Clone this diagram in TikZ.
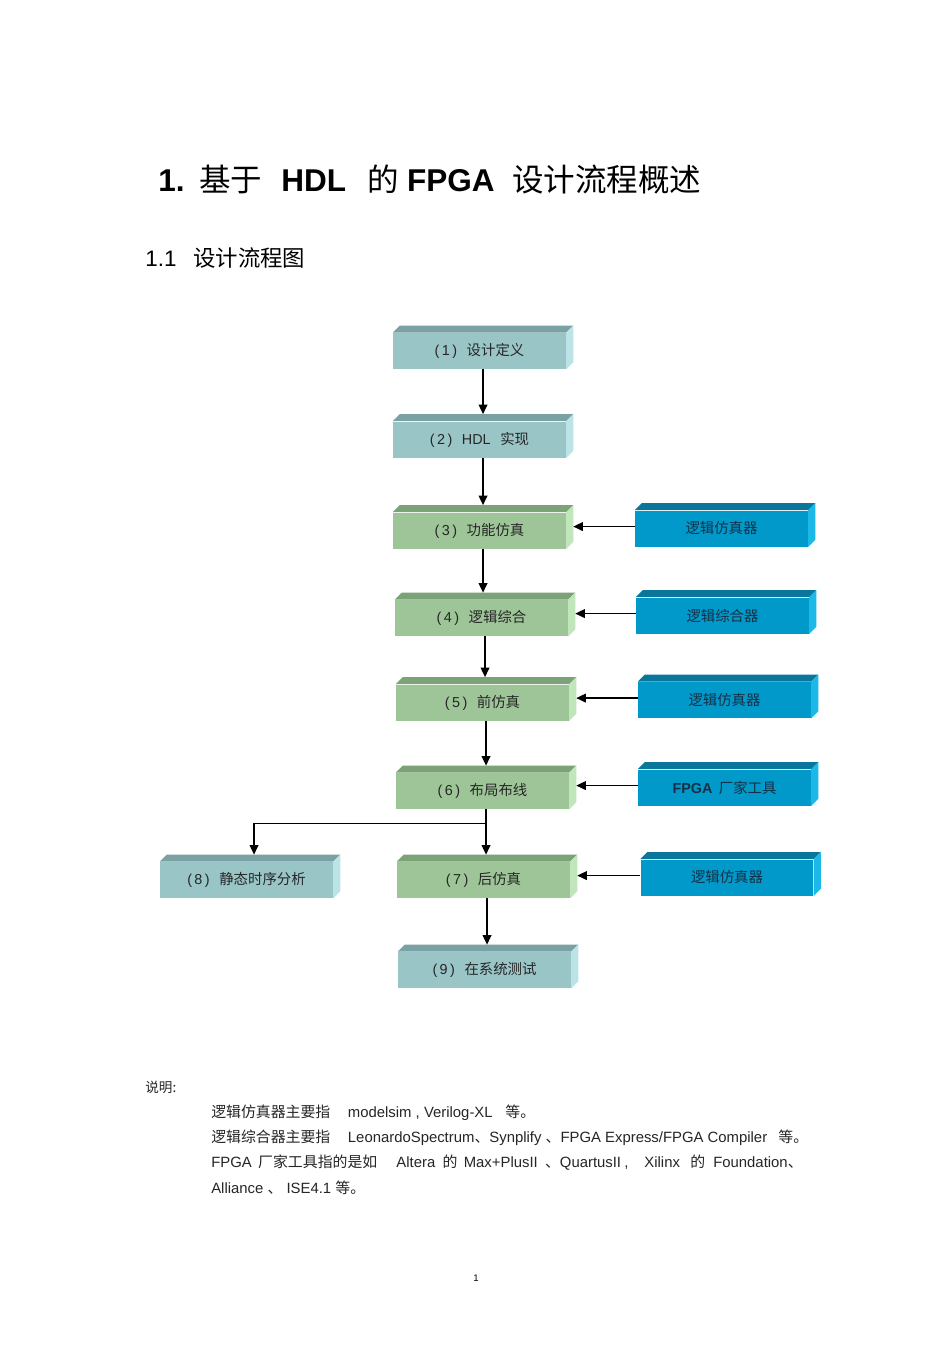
\documentclass[tikz,border=0pt]{standalone}
\usepackage{fontspec}
\setmainfont{Liberation Sans}
\newfontfamily\cjk{Noto Sans CJK SC}
\usetikzlibrary{arrows.meta, calc}
\definecolor{tlFront}{RGB}{154,197,199}
\definecolor{tlTop}{RGB}{122,162,164}
\definecolor{tlSide}{RGB}{188,228,230}
\definecolor{grFront}{RGB}{158,197,152}
\definecolor{grTop}{RGB}{124,162,120}
\definecolor{grSide}{RGB}{194,230,188}
\definecolor{blFront}{RGB}{0,153,201}
\definecolor{blTop}{RGB}{10,118,156}
\definecolor{blSide}{RGB}{28,184,232}
\definecolor{blText}{RGB}{22,48,72}
\newcommand{\zh}[1]{{\cjk #1}}

\tikzset{
  stage/.style={minimum width=108pt, minimum height=22.5pt, inner sep=0pt,
    font=\fontsize{9pt}{10.5pt}\selectfont, text=black!85},
  tl/.style={stage, fill=tlFront},
  gr/.style={stage, fill=grFront},
  bl/.style={stage, fill=blFront, text=blText},
  arr/.style={line width=0.8pt, -{Triangle[length=6pt,width=5.5pt]}, shorten >=4.4pt},
  notes/.style={anchor=west, inner sep=0pt, font=\fontsize{9.3pt}{11pt}\selectfont, text=black!85}
}
\newcommand{\num}[1]{(\hspace{1.5pt}#1\hspace{1.5pt})\hspace{6pt}}

\begin{document}
\begin{tikzpicture}[x=0.625pt, y=-0.625pt]
  \fill[white] (0,0) rectangle (950,1345);
  \useasboundingbox (0,0) rectangle (950,1345);

  % headings
  \node[anchor=west, inner sep=0pt, font=\fontsize{19.7pt}{23pt}\selectfont] (title) at (158,180)
    {\textbf{1.}\hspace{9pt}\zh{基于}\hspace{12pt}\textbf{HDL}\hspace{13.5pt}\zh{的}\hspace{5pt}\textbf{FPGA}\hspace{11pt}\zh{设计流程概述}};
  \node[anchor=west, inner sep=0pt, font=\fontsize{14pt}{16pt}\selectfont] (sec) at (145,258)
    {1.1\hspace{10.5pt}\zh{设计流程图}};

  % flow stages
  \node[tl] (d1) at (479.5,351) {\num{1}\zh{设计定义}};
  \node[tl] (d2) at (479.5,439.5) {\num{2}HDL\hspace{6pt}\zh{实现}};
  \node[gr] (d3) at (479.5,530.5) {\num{3}\zh{功能仿真}};
  \node[gr] (d4) at (481.5,618) {\num{4}\zh{逻辑综合}};
  \node[gr] (d5) at (482.5,702.5) {\num{5}\zh{前仿真}};
  \node[gr] (d6) at (482.5,791) {\num{6}\zh{布局布线}};
  \node[gr] (d7) at (483.5,880) {\num{7}\zh{后仿真}};
  \node[tl] (d8) at (246.5,880) {\num{8}\zh{静态时序分析}};
  \node[tl] (d9) at (484.5,970) {\num{9}\zh{在系统测试}};

  % tools
  \node[bl] (s1) at (721.5,528.5) {\zh{逻辑仿真器}};
  \node[bl] (s2) at (722.5,615.5) {\zh{逻辑综合器}};
  \node[bl] (s3) at (724.5,700) {\zh{逻辑仿真器}};
  \node[bl] (s4) at (724.5,787.5) {\textbf{FPGA}\hspace{4pt}\zh{厂家工具}};
  \node[bl] (s5) at (727,877.5) {\zh{逻辑仿真器}};

  % bevels
  \foreach \n/\t/\s in {d1/tlTop/tlSide, d2/tlTop/tlSide, d3/grTop/grSide, d4/grTop/grSide,
      d5/grTop/grSide, d6/grTop/grSide, d7/grTop/grSide, d8/tlTop/tlSide, d9/tlTop/tlSide,
      s1/blTop/blSide, s2/blTop/blSide, s3/blTop/blSide, s4/blTop/blSide, s5/blTop/blSide} {
    \fill[\t] (\n.north west) -- ++(4.4pt,4.4pt) -- ([shift={(4.4pt,4.4pt)}]\n.north east)
      -- (\n.north east) -- cycle;
    \fill[\s] (\n.north east) -- ++(4.4pt,4.4pt) -- ([shift={(4.4pt,4.4pt)}]\n.south east)
      -- (\n.south east) -- cycle;
  }

  % connectors
  \foreach \a/\b in {d1/d2, d2/d3, d3/d4, d4/d5, d5/d6, d6/d7, d7/d9}
    \draw[arr] ([xshift=2.2pt]\a.south) -- ([xshift=2.2pt]\a.south |- \b.north);
  \foreach \a/\b in {s1/d3, s2/d4, s3/d5, s4/d6, s5/d7}
    \draw[arr, shorten >=0pt] ([yshift=1.2pt]\a.west) -- ([shift={(4.4pt,1.2pt)}]\a.west -| \b.east);
  \coordinate (br) at ([shift={(2.2pt,-8.75pt)}]d6.south);
  \draw[arr] (br) -| ([xshift=4.7pt]d8.north);

  % notes
  \node[anchor=west, inner sep=0pt, font=\fontsize{8.5pt}{10pt}\selectfont, text=black!85] (memo) at (145,1087) {\zh{说明:}};
  \node[notes] (n1) at (211,1113)
    {\zh{逻辑仿真器主要指}\hspace{11pt}modelsim , Verilog-XL\hspace{8pt}\zh{等。}};
  \node[notes] (n2) at (211,1138)
    {\zh{逻辑综合器主要指}\hspace{11pt}LeonardoSpectrum\zh{、}Synplify \zh{、}FPGA Express/FPGA Compiler\hspace{7pt}\zh{等。}};
  \node[notes] (n3) at (211,1163)
    {FPGA\hspace{4pt}\zh{厂家工具指的是如}\hspace{12pt}Altera\hspace{4.5pt}\zh{的}\hspace{4pt}Max+PlusII\hspace{4.5pt}\zh{、}QuartusII\hspace{2pt},\hspace{10pt}Xilinx\hspace{6.5pt}\zh{的}\hspace{5pt}Foundation\zh{、}};
  \node[notes] (n4) at (211,1188)
    {Alliance \zh{、} ISE4.1 \zh{等。}};
  \node[inner sep=0pt, font=\fontsize{6pt}{7pt}\selectfont] (page) at (476,1278) {1};
\end{tikzpicture}
\end{document}
